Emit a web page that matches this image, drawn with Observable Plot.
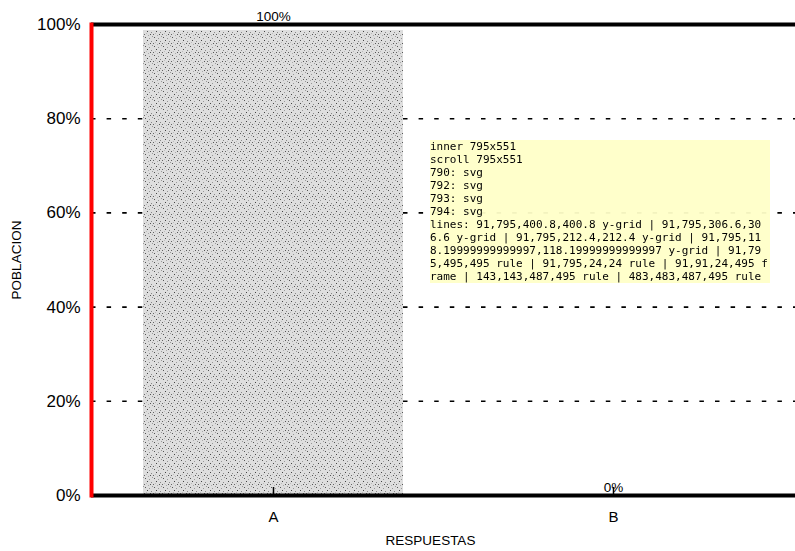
<!DOCTYPE html>
<html>
<head>
<meta charset="utf-8">
<script src="https://cdn.jsdelivr.net/npm/d3@7"></script>
<script src="https://cdn.jsdelivr.net/npm/@observablehq/plot@0.6"></script>
<style>
  html, body { margin: 0; padding: 0; background: #fff; overflow: hidden; }
  svg { display: block; }
  #dbg { position: fixed; left: 430px; top: 140px; width: 340px; font: 11px monospace; white-space: pre-wrap; word-break: break-all; background: rgba(255,255,200,0.95); }
</style>
</head>
<body>
<div id="chart"></div>
<div id="dbg"></div>
<script>
const categories = ["A", "B"];
const values = [100, 0];
const yTicks = [0, 20, 40, 60, 80, 100];
const gridTicks = [20, 40, 60, 80];
const yLabel = "POBLACION";
const xLabel = "RESPUESTAS";

const data = categories.map((c, i) => ({cat: c, val: values[i]}));
const font = "'Liberation Sans', Arial, sans-serif";

const chart = Plot.plot({
  width: 795,
  height: 551,
  marginLeft: 91,
  marginRight: 0,
  marginTop: 24,
  marginBottom: 56,
  style: {fontFamily: font, color: "#000", background: "#fff"},
  x: {domain: categories, paddingInner: 0.235, paddingOuter: 0.15},
  y: {domain: [0, 100]},
  marks: [
    Plot.gridY(gridTicks, {stroke: "#000", strokeOpacity: 1, strokeWidth: 1.6, strokeDasharray: "4.5,11.1"}),
    Plot.barY(data, {x: "cat", y: "val", fill: "url(#stipple)", insetTop: 6}),
    Plot.axisY(yTicks, {tickFormat: d => d + "%", tickSize: 0, tickPadding: 11, fontSize: 17, fill: "#000", label: null}),
    Plot.axisX({tickSize: 0, tickPadding: 16, fontSize: 15, fill: "#000", label: null}),
    Plot.ruleY([0, 100], {stroke: "#000", strokeWidth: 4}),
    Plot.frame({anchor: "left", stroke: "red", strokeWidth: 4}),
    Plot.ruleX(categories, {x: d => d, y1: 0, y2: 0, insetTop: -8, stroke: "#000", strokeWidth: 1.5}),
    Plot.text(data, {x: "cat", y: "val", text: d => d.val + "%", lineAnchor: "bottom", dy: -4, fontSize: 13.5, fill: "#000"}),
    Plot.text([yLabel], {frameAnchor: "left", text: d => d, textAnchor: "middle", lineAnchor: "middle", rotate: -90, dx: -75, fontSize: 13.5, fill: "#000"}),
    Plot.text([xLabel], {frameAnchor: "bottom", text: d => d, textAnchor: "middle", lineAnchor: "middle", dx: -13, dy: 45, fontSize: 13.5, fill: "#000"})
  ]
});

const ns = "http://www.w3.org/2000/svg";
const defs = document.createElementNS(ns, "defs");
const pat = document.createElementNS(ns, "pattern");
pat.setAttribute("id", "stipple");
pat.setAttribute("patternUnits", "userSpaceOnUse");
pat.setAttribute("width", "9");
pat.setAttribute("height", "9");
const bg = document.createElementNS(ns, "rect");
bg.setAttribute("width", "9"); bg.setAttribute("height", "9"); bg.setAttribute("fill", "#dedede");
pat.appendChild(bg);
const dots = [[1,1,"#555"],[5,2,"#999"],[3,4,"#444"],[7,5,"#888"],[0,7,"#666"],[4,8,"#aaa"],[8,0,"#999"],[6,7,"#555"],[2,6,"#bbb"]];
for (const [x, y, c] of dots) {
  const r = document.createElementNS(ns, "rect");
  r.setAttribute("x", x); r.setAttribute("y", y);
  r.setAttribute("width", "1"); r.setAttribute("height", "1");
  r.setAttribute("fill", c);
  pat.appendChild(r);
}
defs.appendChild(pat);
const svg = chart.tagName.toLowerCase() === "svg" ? chart : chart.querySelector("svg");
svg.insertBefore(defs, svg.firstChild);

document.getElementById("chart").appendChild(chart);

const info = [];
info.push("inner " + window.innerWidth + "x" + window.innerHeight);
info.push("scroll " + document.documentElement.scrollWidth + "x" + document.documentElement.scrollHeight);
for (const x of [790, 792, 793, 794]) {
  const el = document.elementFromPoint(x, 250);
  info.push(x + ": " + (el ? el.tagName + " " + (el.getAttribute("aria-label") || "") + " " + (el.parentNode && el.parentNode.getAttribute ? (el.parentNode.getAttribute("aria-label") || "") : "") : "null"));
}
const lines = [...svg.querySelectorAll("line")].map(l => ["x1","x2","y1","y2"].map(a => l.getAttribute(a)).join(",") + " " + (l.parentNode.getAttribute("aria-label")||l.getAttribute("aria-label")||""));
info.push("lines: " + lines.join(" | "));
document.getElementById("dbg").textContent = info.join("\n");
</script>
</body>
</html>
